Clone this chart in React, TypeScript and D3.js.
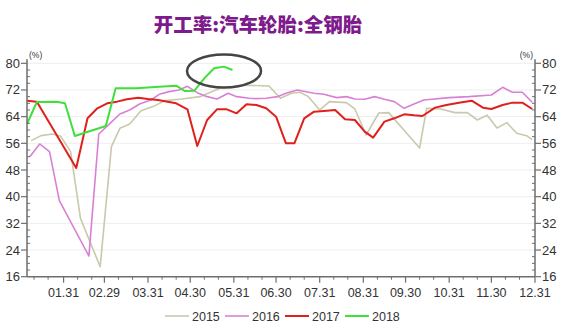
import React from "react";
import * as d3 from "d3";

const W = 568;
const H = 329;

const title = "开工率:汽车轮胎:全钢胎";
const unitLabel = "(%)";

const xTickLabels = ["01.31", "02.29", "03.31", "04.30", "05.31", "06.30", "07.31", "08.31", "09.30", "10.31", "11.30", "12.31"];
const yTicks = [16, 24, 32, 40, 48, 56, 64, 72, 80];

const seriesNames = ["2015", "2016", "2017", "2018"];
const seriesColors = ["#c9c9ad", "#da80d4", "#e0201c", "#3fe03a"];
const seriesWidths = [1.6, 1.6, 2, 2];

const dates2015 = ["01-08", "01-15", "01-23", "01-29", "02-05", "02-12", "02-26", "03-05", "03-11", "03-18", "03-26", "04-05", "04-12", "04-24", "05-07", "05-21", "06-08", "06-25", "07-03", "07-11", "07-17", "07-23", "07-31", "08-07", "08-19", "08-25", "09-02", "09-11", "09-18", "10-10", "10-15", "10-25", "11-04", "11-13", "11-20", "11-27", "12-04", "12-11", "12-18", "12-25", "12-29"];
const values2015 = [56.8, 58.3, 58.8, 58.1, 53.5, 33.5, 19, 55, 60.5, 61.8, 65.8, 67.3, 68.8, 69.3, 70, 72.5, 73.4, 73.2, 69.5, 71, 71.3, 70, 66, 68.5, 68.2, 66.3, 58.5, 65.1, 65.2, 54.6, 66.5, 66.3, 65.2, 65.2, 63, 64.4, 60.6, 62.2, 59, 58.3, 57.1];

const dates2016 = ["01-07", "01-14", "01-21", "01-28", "02-18", "02-25", "03-04", "03-11", "03-18", "03-25", "04-02", "04-08", "04-15", "04-22", "04-28", "05-05", "05-12", "05-19", "05-27", "06-02", "06-11", "06-16", "06-23", "07-01", "07-07", "07-15", "07-27", "08-03", "08-12", "08-19", "08-25", "09-01", "09-08", "09-15", "09-22", "09-29", "10-06", "10-13", "10-31", "11-14", "11-30", "12-08", "12-15", "12-22", "12-29"];
const values2016 = [52, 55.8, 53.5, 38.8, 22.2, 58.8, 62, 64.8, 66, 67.8, 69, 70.7, 71.5, 72, 73.1, 71.2, 70, 69.3, 71, 70, 69.5, 69.4, 69.5, 70, 71, 72, 71, 70.7, 69.7, 70, 69.3, 69.2, 70, 69.2, 68.5, 66.5, 67.8, 69, 69.7, 70, 70.5, 72.8, 71.3, 71.3, 68.3];

const dates2017 = ["01-05", "01-12", "02-09", "02-17", "02-24", "03-02", "03-09", "03-16", "03-24", "03-31", "04-07", "04-14", "04-20", "04-28", "05-05", "05-12", "05-19", "05-26", "06-02", "06-09", "06-16", "06-23", "06-30", "07-07", "07-13", "07-20", "07-27", "08-03", "08-11", "08-18", "08-25", "09-01", "09-07", "09-15", "09-22", "09-29", "10-06", "10-12", "10-21", "10-29", "11-07", "11-16", "11-24", "11-30", "12-08", "12-15", "12-22", "12-29"];
const values2017 = [68.8, 68.5, 48.6, 63.5, 66.5, 68, 68.5, 69.2, 69.7, 69.3, 69, 68.5, 68, 66.2, 55.2, 63, 66.2, 66.2, 65, 67.7, 67.5, 66.5, 64, 56, 56, 63.5, 65.5, 65.7, 66, 63.2, 63, 59.5, 57.7, 62.5, 63.5, 64.7, 64.4, 64.2, 66.7, 67.5, 68.2, 68.8, 66.7, 66.3, 67.5, 68.2, 68.2, 66.3];

const dates2018 = ["01-05", "01-12", "01-26", "02-01", "02-08", "03-01", "03-08", "03-16", "03-23", "04-05", "04-20", "04-26", "05-03", "05-10", "05-17", "05-24", "05-30"];
const values2018 = [61.8, 68.4, 68.5, 68, 58.2, 61.2, 72.5, 72.5, 72.5, 72.9, 73.3, 71.7, 71.8, 75.5, 78.5, 79, 78];

const allDates = [dates2015, dates2016, dates2017, dates2018];
const allValues = [values2015, values2016, values2017, values2018];

const parseMD = (s: string) => {
  const [m, d] = s.split(/[-.]/).map(Number);
  return new Date(2016, m - 1, d);
};

export default function App() {
  const left = 27;
  const right = 535;
  const top = 63.3;
  const bottom = 276.7;

  const x = d3.scaleTime().domain([new Date(2016, 0, 5), new Date(2016, 11, 31)]).range([left, right]);
  const y = d3.scaleLinear().domain([16, 80]).range([bottom, top]);

  const majorDates = xTickLabels.map(parseMD);
  const minorDates: Date[] = [];
  for (let m = 0; m < 12; m++) {
    minorDates.push(new Date(2016, m, 10));
    minorDates.push(new Date(2016, m, 20));
  }
  const yMinor = d3.range(16, 80.1, 2).filter((v) => v % 8 !== 0);

  const line = d3
    .line<[Date, number]>()
    .x((d) => x(d[0]))
    .y((d) => y(d[1]));

  const axisColor = "#6e6e6e";
  const textColor = "#333";
  const font = "'Liberation Sans', 'DejaVu Sans', sans-serif";

  return (
    <svg width={W} height={H} style={{ position: "absolute", left: 0, top: 0, background: "#fff" }} fontFamily={font}>
      <text x={258} y={32} textAnchor="middle" fontSize={19.5} fontWeight={900} fill="#7d1a8c" fontFamily="'Noto Sans CJK SC', sans-serif">
        {title}
      </text>

      {/* grid */}
      {yTicks.slice(1).map((t) => (
        <line key={"g" + t} x1={left} x2={right} y1={y(t)} y2={y(t)} stroke="#eeeeee" strokeWidth={1} />
      ))}

      {/* series */}
      {allDates.map((ds, i) => {
        const pts: [Date, number][] = ds.map((d, j) => [parseMD(d), allValues[i][j]]);
        return (
          <path key={"s" + i} d={line(pts) || ""} fill="none" stroke={seriesColors[i]} strokeWidth={seriesWidths[i]} strokeLinejoin="round" />
        );
      })}

      {/* annotation ellipse */}
      <ellipse cx={224} cy={71} rx={37} ry={16.5} fill="none" stroke="#454545" strokeWidth={2.5} />

      {/* left axis */}
      <line x1={left} x2={left} y1={top - 4} y2={bottom} stroke={axisColor} strokeWidth={1.5} />
      {yTicks.map((t) => (
        <g key={"ly" + t}>
          <line x1={left - 6} x2={left} y1={y(t)} y2={y(t)} stroke={axisColor} strokeWidth={1.2} />
          <text x={left - 7} y={y(t) + 4.5} textAnchor="end" fontSize={13} fill={textColor}>
            {t}
          </text>
        </g>
      ))}
      {yMinor.map((t) => (
        <line key={"lm" + t} x1={left} x2={left + 3} y1={y(t)} y2={y(t)} stroke={axisColor} strokeWidth={1} />
      ))}
      <text x={29} y={58} fontSize={8.5} fill={textColor}>
        {unitLabel}
      </text>

      {/* right axis */}
      <line x1={right} x2={right} y1={top - 4} y2={bottom} stroke={axisColor} strokeWidth={1.5} />
      {yTicks.map((t) => (
        <g key={"ry" + t}>
          <line x1={right} x2={right + 6} y1={y(t)} y2={y(t)} stroke={axisColor} strokeWidth={1.2} />
          <text x={right + 7} y={y(t) + 4.5} textAnchor="start" fontSize={13} fill={textColor}>
            {t}
          </text>
        </g>
      ))}
      {yMinor.map((t) => (
        <line key={"rm" + t} x1={right - 3} x2={right} y1={y(t)} y2={y(t)} stroke={axisColor} strokeWidth={1} />
      ))}
      <text x={533} y={58} textAnchor="end" fontSize={8.5} fill={textColor}>
        {unitLabel}
      </text>

      {/* x axis */}
      <line x1={left} x2={right} y1={bottom} y2={bottom} stroke={axisColor} strokeWidth={1.5} />
      {majorDates.map((d, i) => (
        <g key={"xt" + i}>
          <line x1={x(d)} x2={x(d)} y1={bottom} y2={bottom + 6} stroke={axisColor} strokeWidth={1.2} />
          <text x={x(d)} y={bottom + 20} textAnchor="middle" fontSize={12.5} fill={textColor}>
            {xTickLabels[i]}
          </text>
        </g>
      ))}
      {minorDates.map((d, i) => (
        <line key={"xm" + i} x1={x(d)} x2={x(d)} y1={bottom} y2={bottom + 3} stroke={axisColor} strokeWidth={1} />
      ))}

      {/* legend */}
      {seriesNames.map((n, i) => {
        const lx = 165 + i * 60;
        const ly = 316;
        return (
          <g key={"lg" + n}>
            <line x1={lx} x2={lx + 24} y1={ly} y2={ly} stroke={seriesColors[i]} strokeWidth={seriesWidths[i]} />
            <text x={lx + 27} y={ly + 4.5} fontSize={12.5} fill={textColor}>
              {n}
            </text>
          </g>
        );
      })}
    </svg>
  );
}
